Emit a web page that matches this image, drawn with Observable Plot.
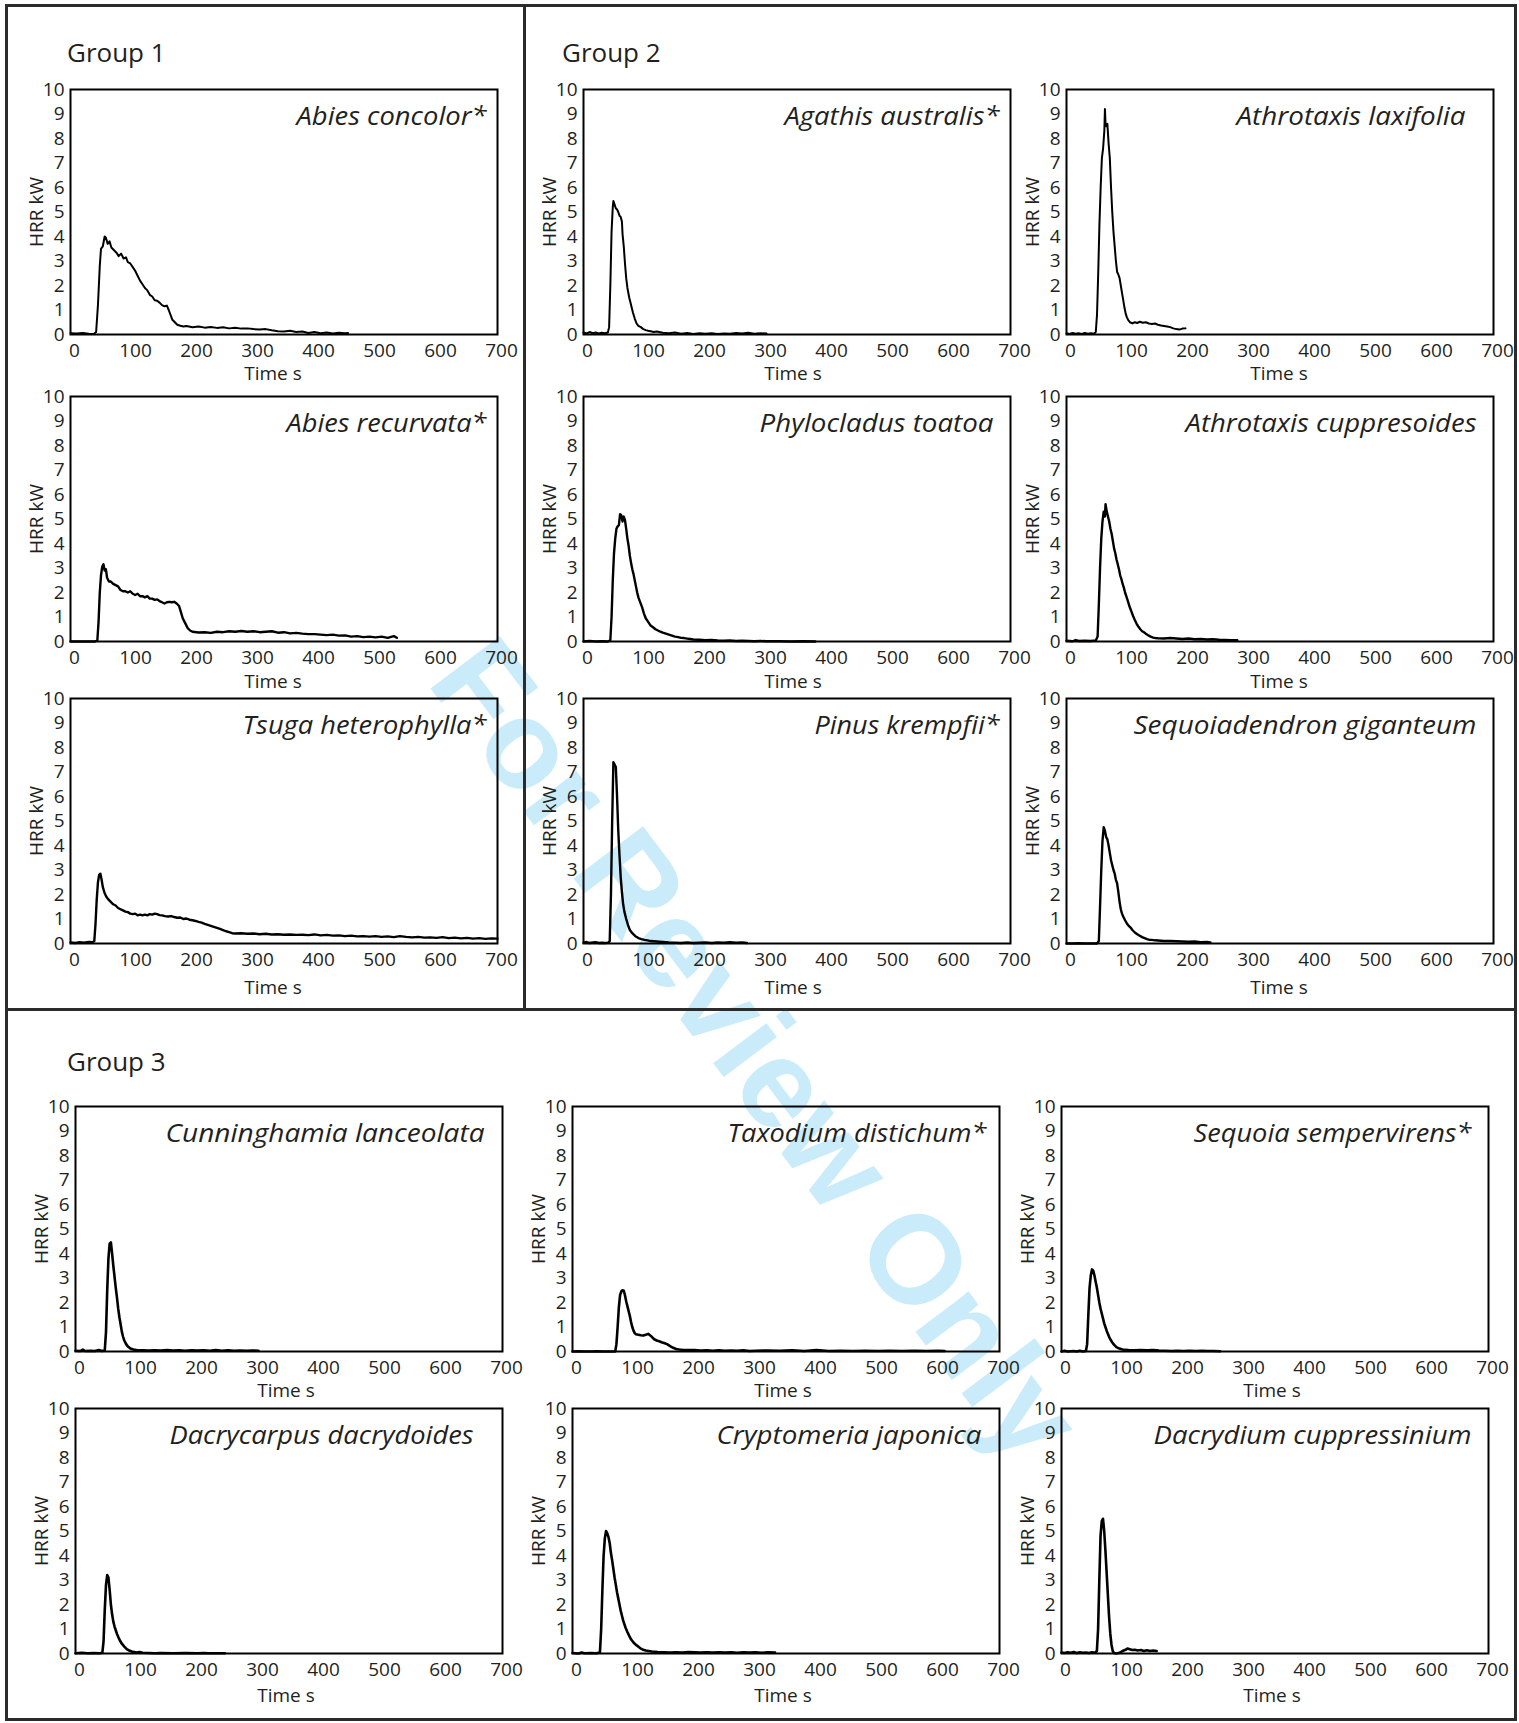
<!DOCTYPE html>
<html><head><meta charset="utf-8">
<script src="https://cdn.jsdelivr.net/npm/d3@7"></script>
<script src="https://cdn.jsdelivr.net/npm/@observablehq/plot@0.6"></script>
<style>
body{margin:0;background:#fff;}
#page{position:relative;width:1519px;height:1723px;overflow:hidden;font-family:"Open Sans",sans-serif;color:#231f20;background:#fff;}
.line{position:absolute;background:#2b2b2b;}
.gtitle{position:absolute;font-size:26px;line-height:1;white-space:nowrap;}
.panel{position:absolute;}
#wm{position:absolute;left:757px;top:1050px;transform:translate(-50%,-50%) rotate(53deg);font-family:"Liberation Sans",Arial,sans-serif;font-weight:bold;font-size:126px;color:#c9ebfa;white-space:nowrap;line-height:1;}
</style></head><body><div id="page"><div id="wm">For Review Only</div></div>
<script>
// ---------- data (time s, HRR kW) ----------
const xTicks = [0,100,200,300,400,500,600,700];
const yTicks = [0,1,2,3,4,5,6,7,8,9,10];
const groupNames = ["Group 1","Group 2","Group 3"];

const abiesConcolor = [[0,0.05],[10,0.04],[20,0.06],[30,0.03],[38,0.02],[42,0.1],[45,1.2],[48,2.8],[50,3.5],[53,3.6],[56,4.0],[58,3.95],[61,3.7],[64,3.8],[67,3.55],[71,3.45],[75,3.35],[79,3.2],[83,3.3],[87,3.1],[91,3.15],[94,2.95],[98,2.9],[102,2.75],[106,2.6],[110,2.4],[114,2.2],[118,2.05],[122,1.9],[126,1.8],[130,1.62],[134,1.55],[138,1.4],[142,1.38],[146,1.3],[150,1.2],[154,1.15],[158,1.18],[161,1.0],[164,0.8],[167,0.6],[171,0.5],[175,0.4],[180,0.36],[185,0.33],[190,0.35],[200,0.3],[210,0.33],[220,0.28],[230,0.31],[240,0.27],[250,0.3],[260,0.25],[270,0.28],[280,0.24],[290,0.25],[300,0.22],[310,0.2],[320,0.22],[330,0.17],[340,0.13],[350,0.12],[360,0.15],[370,0.1],[380,0.12],[390,0.06],[400,0.1],[410,0.05],[420,0.08],[430,0.04],[440,0.07],[450,0.05],[455,0.06]];
const abiesRecurvata = [[0,0],[10,0],[20,0],[30,0],[40,0],[44,0.05],[46,0.8],[48,2.0],[50,2.7],[52,3.05],[54,3.15],[56,2.9],[58,2.95],[60,2.6],[63,2.45],[66,2.45],[70,2.35],[74,2.3],[78,2.25],[82,2.1],[86,2.05],[90,2.05],[94,2.0],[98,2.05],[102,1.95],[106,1.9],[110,1.95],[114,1.85],[118,1.85],[122,1.8],[126,1.85],[130,1.75],[134,1.75],[138,1.7],[142,1.72],[146,1.65],[150,1.6],[154,1.55],[158,1.6],[162,1.62],[166,1.6],[170,1.62],[174,1.55],[178,1.45],[181,1.2],[184,0.95],[188,0.75],[192,0.55],[196,0.45],[200,0.4],[210,0.37],[220,0.38],[230,0.35],[240,0.4],[250,0.38],[260,0.42],[270,0.4],[280,0.43],[290,0.4],[300,0.42],[310,0.38],[320,0.4],[330,0.42],[340,0.36],[350,0.38],[360,0.33],[370,0.35],[380,0.32],[390,0.3],[400,0.3],[410,0.28],[420,0.26],[430,0.28],[440,0.24],[450,0.25],[460,0.2],[470,0.22],[480,0.18],[490,0.2],[500,0.17],[510,0.2],[520,0.15],[530,0.22],[535,0.15]];
const tsugaHeterophylla = [[0,0.04],[8,0.02],[15,0.05],[22,0.03],[30,0.06],[36,0.05],[39,0.1],[41,0.8],[43,1.8],[45,2.5],[47,2.8],[49,2.85],[51,2.6],[53,2.3],[56,2.05],[59,1.9],[62,1.8],[66,1.7],[70,1.6],[74,1.55],[78,1.45],[82,1.4],[86,1.35],[90,1.3],[94,1.28],[98,1.22],[102,1.2],[106,1.22],[110,1.15],[114,1.18],[118,1.15],[122,1.18],[126,1.15],[130,1.2],[134,1.18],[138,1.22],[142,1.2],[146,1.16],[150,1.15],[155,1.12],[160,1.1],[165,1.12],[170,1.08],[175,1.05],[180,1.06],[185,1.0],[190,1.02],[195,0.97],[200,0.95],[205,0.92],[210,0.88],[215,0.85],[220,0.8],[225,0.76],[230,0.72],[235,0.68],[240,0.64],[245,0.6],[250,0.55],[255,0.5],[260,0.46],[265,0.42],[270,0.41],[280,0.42],[290,0.4],[300,0.41],[310,0.38],[320,0.4],[330,0.37],[340,0.38],[350,0.36],[360,0.37],[370,0.35],[380,0.36],[390,0.34],[400,0.37],[410,0.33],[420,0.35],[430,0.32],[440,0.33],[450,0.3],[460,0.32],[470,0.29],[480,0.3],[490,0.28],[500,0.3],[510,0.27],[520,0.29],[530,0.26],[540,0.3],[550,0.27],[560,0.25],[570,0.27],[580,0.24],[590,0.25],[600,0.23],[610,0.26],[620,0.22],[630,0.24],[640,0.21],[650,0.23],[660,0.2],[670,0.22],[680,0.19],[690,0.21],[700,0.2]];
const agathisAustralis = [[0,0.08],[5,0.04],[10,0.1],[15,0.05],[20,0.08],[25,0.04],[30,0.07],[35,0.05],[40,0.08],[42,0.3],[44,2.0],[46,4.2],[48,5.2],[49,5.45],[51,5.3],[53,5.15],[55,5.1],[57,5.0],[59,4.85],[61,4.8],[63,4.6],[64,4.1],[66,3.6],[68,2.9],[70,2.3],[72,1.9],[75,1.5],[78,1.2],[81,0.9],[84,0.65],[87,0.45],[90,0.35],[94,0.3],[98,0.22],[102,0.18],[106,0.15],[110,0.13],[115,0.1],[120,0.12],[130,0.07],[140,0.05],[150,0.08],[160,0.03],[170,0.06],[180,0.02],[190,0.05],[200,0.03],[210,0.05],[220,0.02],[230,0.04],[240,0.03],[250,0.06],[260,0.04],[270,0.07],[280,0.03],[290,0.05],[300,0.04]];
const athrotaxisLaxifolia = [[0,0.05],[5,0.02],[10,0.06],[15,0.03],[20,0.05],[25,0.02],[30,0.06],[35,0.03],[40,0.05],[45,0.03],[48,0.1],[50,0.8],[52,2.5],[54,4.5],[56,6.0],[58,7.2],[60,7.6],[62,8.3],[63,9.2],[64,8.6],[65,8.5],[67,8.6],[69,7.8],[71,7.2],[73,6.0],[75,5.0],[77,4.2],[79,3.6],[81,3.0],[83,2.55],[85,2.45],[87,2.3],[89,2.0],[91,1.7],[93,1.4],[95,1.1],[97,0.85],[99,0.7],[101,0.6],[104,0.5],[108,0.45],[112,0.5],[116,0.47],[120,0.52],[125,0.48],[130,0.5],[135,0.45],[140,0.43],[145,0.45],[150,0.4],[155,0.37],[160,0.35],[165,0.33],[170,0.3],[175,0.25],[180,0.22],[185,0.2],[190,0.24],[195,0.25]];
const phylocladusToatoa = [[0,0],[10,0.02],[20,0],[30,0.01],[40,0],[44,0.05],[46,1.0],[48,2.5],[50,3.6],[52,4.2],[54,4.6],[56,4.7],[58,4.75],[60,5.2],[62,5.15],[64,4.9],[66,5.1],[68,4.95],[70,4.6],[72,4.2],[74,3.9],[76,3.5],[78,3.2],[80,2.95],[82,2.75],[84,2.5],[86,2.25],[88,2.0],[90,1.8],[93,1.6],[96,1.4],[99,1.15],[102,0.95],[106,0.8],[110,0.65],[114,0.58],[118,0.5],[122,0.45],[126,0.4],[130,0.36],[135,0.32],[140,0.28],[145,0.24],[150,0.2],[155,0.18],[160,0.15],[165,0.14],[170,0.12],[175,0.1],[180,0.08],[190,0.07],[200,0.05],[210,0.06],[220,0.04],[230,0.03],[240,0.04],[250,0.02],[260,0.03],[270,0.02],[280,0.01],[290,0.02],[300,0.01],[320,0.01],[340,0],[360,0.01],[380,0]];
const pinusKrempfii = [[0,0.03],[5,0.06],[10,0.02],[15,0.04],[20,0.05],[25,0.02],[30,0.03],[35,0.02],[40,0.03],[43,0.1],[45,2.0],[47,5.0],[49,7.4],[51,7.3],[53,7.2],[55,6.0],[57,4.6],[59,3.6],[61,2.7],[63,2.1],[65,1.6],[67,1.3],[70,1.0],[73,0.75],[76,0.55],[80,0.42],[85,0.3],[90,0.22],[95,0.18],[100,0.15],[105,0.13],[110,0.1],[120,0.08],[130,0.06],[140,0.04],[150,0.03],[160,0.02],[170,0.04],[180,0.02],[190,0.03],[200,0.04],[210,0.02],[220,0.04],[230,0.03],[240,0.05],[250,0.03],[260,0.04],[268,0.02]];
const athrotaxisCuppresoides = [[0,0.03],[10,0.01],[15,0.06],[20,0.02],[30,0.03],[40,0.02],[48,0.04],[51,0.2],[53,1.5],[55,3.0],[57,4.2],[59,4.9],[61,5.3],[63,5.1],[64,5.6],[66,5.3],[68,5.1],[70,4.9],[72,4.6],[74,4.4],[76,4.1],[78,3.8],[80,3.6],[82,3.35],[84,3.15],[86,2.95],[88,2.7],[90,2.55],[92,2.35],[94,2.2],[96,2.0],[98,1.85],[100,1.7],[103,1.45],[106,1.25],[109,1.05],[112,0.88],[115,0.72],[118,0.6],[121,0.5],[124,0.42],[127,0.38],[130,0.32],[134,0.25],[138,0.2],[142,0.16],[146,0.14],[150,0.13],[160,0.12],[170,0.14],[180,0.12],[190,0.1],[200,0.12],[210,0.09],[220,0.1],[230,0.08],[240,0.09],[250,0.07],[260,0.06],[270,0.05],[280,0.05]];
const sequoiadendronGiganteum = [[0,0],[10,0],[20,0.01],[30,0],[40,0],[50,0],[53,0.1],[55,1.5],[57,3.0],[59,4.2],[61,4.75],[63,4.6],[65,4.35],[67,4.25],[69,4.0],[71,3.7],[73,3.4],[75,3.2],[77,3.0],[79,2.85],[81,2.6],[83,2.45],[85,2.1],[87,1.7],[89,1.4],[91,1.22],[93,1.1],[96,0.95],[99,0.82],[102,0.72],[105,0.65],[108,0.55],[112,0.45],[116,0.38],[120,0.32],[124,0.26],[128,0.22],[132,0.18],[136,0.15],[140,0.15],[145,0.13],[150,0.12],[160,0.1],[170,0.1],[180,0.09],[190,0.08],[200,0.07],[210,0.08],[220,0.05],[230,0.06],[236,0.04]];
const cunninghamiaLanceolata = [[0,0.03],[8,0.02],[12,0.08],[16,0.02],[25,0.03],[32,0.02],[38,0.06],[44,0.02],[48,0.05],[50,0.8],[52,2.5],[54,3.8],[56,4.4],[58,4.45],[60,4.0],[62,3.5],[64,3.05],[66,2.6],[68,2.2],[70,1.75],[72,1.4],[74,1.1],[76,0.8],[78,0.6],[80,0.45],[83,0.3],[86,0.2],[90,0.12],[95,0.08],[100,0.06],[110,0.05],[120,0.04],[130,0.05],[140,0.04],[150,0.06],[160,0.04],[170,0.05],[180,0.03],[190,0.05],[200,0.04],[210,0.05],[220,0.03],[230,0.06],[240,0.03],[250,0.05],[260,0.03],[270,0.04],[280,0.03],[290,0.04],[300,0.03]];
const taxodiumDistichum = [[0,0],[10,0.01],[20,0],[30,0],[40,0.01],[50,0],[60,0],[70,0],[72,0.3],[74,1.0],[76,1.8],[78,2.3],[80,2.45],[82,2.5],[84,2.48],[86,2.3],[88,2.05],[90,1.85],[92,1.65],[94,1.45],[96,1.2],[98,1.0],[100,0.85],[102,0.75],[104,0.7],[108,0.68],[112,0.66],[116,0.65],[120,0.68],[124,0.72],[126,0.68],[130,0.6],[134,0.5],[138,0.45],[142,0.42],[146,0.38],[150,0.35],[155,0.3],[160,0.22],[165,0.15],[170,0.1],[175,0.08],[180,0.07],[190,0.06],[200,0.06],[210,0.04],[220,0.05],[230,0.03],[240,0.05],[250,0.03],[260,0.04],[270,0.03],[280,0.05],[290,0.02],[300,0.03],[320,0.04],[340,0.03],[360,0.05],[380,0.02],[400,0.06],[420,0.02],[440,0.03],[460,0.02],[480,0.03],[500,0.02],[520,0.03],[540,0.02],[560,0.03],[580,0.02],[600,0.03],[610,0.02]];
const sequoiaSempervirens = [[0,0],[5,0.03],[10,0],[15,0.01],[20,0.02],[25,0],[30,0.03],[35,0],[40,0.02],[42,0.3],[44,1.5],[46,2.6],[48,3.1],[50,3.35],[52,3.3],[54,3.1],[56,2.85],[58,2.6],[60,2.3],[62,2.0],[64,1.75],[66,1.55],[68,1.35],[70,1.15],[72,1.0],[74,0.85],[76,0.72],[78,0.6],[80,0.5],[83,0.38],[86,0.28],[90,0.18],[95,0.12],[100,0.08],[110,0.06],[120,0.05],[130,0.06],[140,0.05],[150,0.06],[160,0.04],[170,0.03],[180,0.02],[190,0.03],[200,0.02],[210,0.03],[220,0.02],[230,0.03],[240,0.02],[250,0.02],[260,0.01]];
const dacrycarpusDacrydoides = [[0,0.01],[10,0.03],[20,0.01],[30,0.02],[40,0.01],[44,0.03],[46,0.5],[48,1.8],[50,2.8],[52,3.2],[54,3.1],[56,2.6],[58,2.0],[60,1.6],[62,1.3],[64,1.1],[66,0.95],[68,0.8],[70,0.68],[73,0.52],[76,0.4],[80,0.28],[84,0.18],[88,0.12],[92,0.08],[96,0.06],[100,0.04],[105,0.06],[110,0.03],[120,0.02],[130,0.01],[140,0.02],[160,0.01],[180,0.02],[200,0.01],[210,0.02],[220,0.01],[245,0.01]];
const cryptomeriaJaponica = [[0,0.02],[10,0],[15,0.04],[20,0.01],[30,0.02],[40,0.01],[45,0.05],[47,1.0],[49,2.6],[51,4.0],[53,4.7],[55,5.0],[57,4.9],[59,4.75],[61,4.5],[63,4.1],[65,3.8],[67,3.45],[69,3.1],[71,2.8],[73,2.5],[75,2.25],[77,2.0],[79,1.75],[81,1.55],[83,1.35],[85,1.2],[87,1.05],[90,0.88],[93,0.72],[96,0.58],[100,0.45],[104,0.35],[108,0.28],[112,0.2],[116,0.15],[120,0.12],[125,0.1],[130,0.08],[140,0.06],[150,0.05],[160,0.04],[170,0.05],[180,0.04],[190,0.06],[200,0.05],[210,0.04],[220,0.05],[230,0.04],[240,0.05],[250,0.04],[260,0.05],[270,0.03],[280,0.05],[290,0.04],[300,0.05],[310,0.03],[320,0.05],[332,0.04]];
const dacrydiumCuppressinium = [[0,0.04],[5,0.02],[10,0.05],[15,0.03],[20,0.06],[25,0.02],[30,0.05],[35,0.03],[40,0.04],[45,0.02],[50,0.05],[55,0.03],[58,0.1],[60,1.0],[62,3.0],[64,4.8],[66,5.4],[68,5.5],[70,5.0],[72,4.2],[74,3.3],[76,2.4],[78,1.5],[80,0.8],[82,0.35],[84,0.1],[86,0.02],[90,0.0],[95,0.03],[100,0.1],[105,0.15],[108,0.2],[112,0.17],[116,0.14],[120,0.15],[125,0.12],[130,0.14],[135,0.1],[140,0.13],[145,0.1],[150,0.12],[156,0.1]];

const speciesNames = ["Abies concolor*","Abies recurvata*","Tsuga heterophylla*","Agathis australis*","Athrotaxis laxifolia","Phylocladus toatoa","Athrotaxis cuppresoides","Pinus krempfii*","Sequoiadendron giganteum","Cunninghamia lanceolata","Taxodium distichum*","Sequoia sempervirens*","Dacrycarpus dacrydoides","Cryptomeria japonica","Dacrydium cuppressinium"];
const speciesSeries = [abiesConcolor,abiesRecurvata,tsugaHeterophylla,agathisAustralis,athrotaxisLaxifolia,phylocladusToatoa,athrotaxisCuppresoides,pinusKrempfii,sequoiadendronGiganteum,cunninghamiaLanceolata,taxodiumDistichum,sequoiaSempervirens,dacrycarpusDacrydoides,cryptomeriaJaponica,dacrydiumCuppressinium];

// ---------- layout / style (not data) ----------
const layout = [
  {x:70,  y:89,   timeDy:39, timeDx:-11, inset:11, lw:190, sw:2.0},
  {x:70,  y:396,  timeDy:40, timeDx:-11, inset:11, lw:200, sw:2.4},
  {x:70,  y:698,  timeDy:44, timeDx:-11, inset:11, lw:244, sw:2.4},
  {x:583, y:89,   timeDy:39, timeDx:-4,  inset:11, lw:215, sw:2.0},
  {x:1066,y:89,   timeDy:39, timeDx:-1,  inset:28, lw:229, sw:2.0},
  {x:583, y:396,  timeDy:40, timeDx:-4,  inset:17, lw:234, sw:2.4},
  {x:1066,y:396,  timeDy:40, timeDx:-1,  inset:17, lw:291, sw:2.4},
  {x:583, y:698,  timeDy:44, timeDx:-4,  inset:11, lw:185, sw:2.4},
  {x:1066,y:698,  timeDy:44, timeDx:-1,  inset:17, lw:343, sw:2.4},
  {x:75,  y:1106, timeDy:39, timeDx:-3,  inset:18, lw:319, sw:2.6},
  {x:572, y:1106, timeDy:39, timeDx:-3,  inset:13, lw:259, sw:2.6},
  {x:1061,y:1106, timeDy:39, timeDx:-3,  inset:17, lw:278, sw:2.6},
  {x:75,  y:1408, timeDy:42, timeDx:-3,  inset:29, lw:304, sw:2.6},
  {x:572, y:1408, timeDy:42, timeDx:-3,  inset:18, lw:265, sw:2.6},
  {x:1061,y:1408, timeDy:42, timeDx:-3,  inset:17, lw:318, sw:2.6}
];
const FW = 427, FH = 245, ML = 80, MR = 24, MT = 12, MB = 60;
const ink = "#231f20";

const page = document.getElementById("page");

function addLine(l,t,w,h){const d=document.createElement("div");d.className="line";Object.assign(d.style,{left:l+"px",top:t+"px",width:w+"px",height:h+"px"});page.appendChild(d);}
addLine(5,4,1512,3);      // top
addLine(5,1718,1512,3);   // bottom
addLine(5,4,3,1717);      // left
addLine(1514,4,3,1717);   // right
addLine(523,4,3,1007);    // group1/group2 divider
addLine(5,1008,1512,3);   // group3 divider

const titlePos = [[67,39],[562,39],[67,1048]];
groupNames.forEach((g,i)=>{const d=document.createElement("div");d.className="gtitle";d.textContent=g;d.style.left=titlePos[i][0]+"px";d.style.top=titlePos[i][1]+"px";page.appendChild(d);});

speciesSeries.forEach((series,i)=>{
  const L = layout[i];
  const chart = Plot.plot({
    width: FW+ML+MR, height: FH+MT+MB,
    marginLeft: ML, marginRight: MR, marginTop: MT, marginBottom: MB,
    style: {background:"transparent", fontFamily:"'Open Sans', sans-serif", fontSize:"19px", color: ink, overflow:"visible"},
    x: {domain:[0,700]},
    y: {domain:[0,10]},
    marks: [
      Plot.axisX({ticks:xTicks, tickSize:0, tickPadding:9, dx:4, label:null, tickFormat:d=>String(d), fontSize:19}),
      Plot.axisY({ticks:yTicks, tickSize:0, tickPadding:6, label:null, tickFormat:d=>String(d), fontSize:19}),
      Plot.line(series, {x:d=>d[0], y:d=>d[1], stroke:"#000", strokeWidth:L.sw, strokeLinejoin:"round"}),
      Plot.frame({stroke:"#000", strokeWidth:2}),
      Plot.text([speciesNames[i]], {frameAnchor:"top-right", dx:-L.inset, dy:27, lineAnchor:"middle", fontStyle:"italic", fontSize:26, fill:ink, className:"species"}),
      Plot.text(["HRR kW"], {frameAnchor:"left", textAnchor:"middle", rotate:-90, dx:-34, fontSize:19, fill:ink}),
      Plot.text(["Time s"], {frameAnchor:"bottom", lineAnchor:"middle", dx:L.timeDx, dy:L.timeDy, fontSize:19, fill:ink})
    ]
  });
  chart.querySelectorAll(".species text").forEach(t=>{t.setAttribute("textLength",L.lw);t.setAttribute("lengthAdjust","spacingAndGlyphs");});
  const wrap = document.createElement("div");
  wrap.className="panel";
  wrap.style.left=(L.x-ML)+"px"; wrap.style.top=(L.y-MT)+"px";
  wrap.appendChild(chart);
  page.appendChild(wrap);
});
</script></body></html>
